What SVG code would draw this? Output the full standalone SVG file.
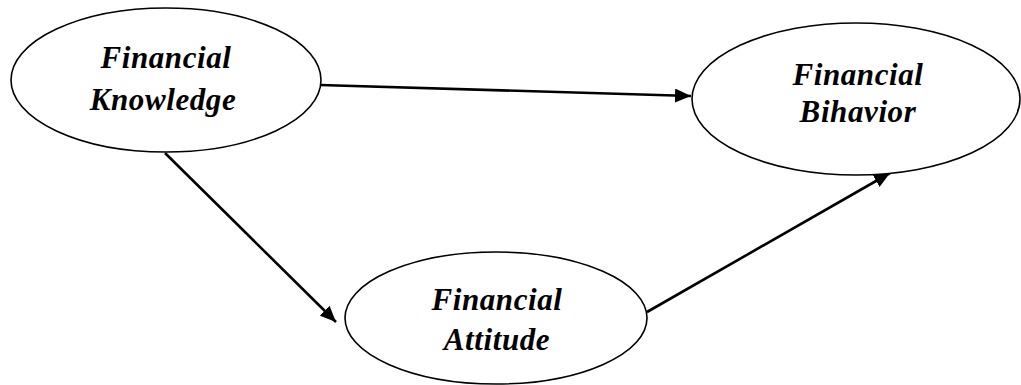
<svg xmlns="http://www.w3.org/2000/svg" width="1021" height="385" viewBox="0 0 1021 385">
<style>
.node ellipse{fill:#fff;stroke:#000;stroke-width:1.6}
.node text{font-family:"Liberation Serif","Times New Roman",serif;font-weight:bold;font-style:italic;font-size:31px;letter-spacing:0.6px;text-anchor:middle;fill:#000}
.edge{stroke:#000;stroke-width:2.6;fill:none;marker-end:url(#ah)}
</style>
<defs>
<marker id="ah" markerUnits="userSpaceOnUse" markerWidth="16" markerHeight="14" viewBox="0 0 16 14" refX="16" refY="7" orient="auto">
<path d="M0,0 L16,7 L0,14 Z" fill="#000"/>
</marker>
</defs>
<g id="connectors">
<line class="edge" x1="320" y1="85" x2="691" y2="96"/>
<line class="edge" x1="165" y1="153" x2="336" y2="322"/>
<line class="edge" x1="647" y1="312" x2="890" y2="173"/>
</g>
<g id="knowledge" class="node">
<ellipse cx="166" cy="80" rx="155" ry="72"/>
<text x="166" y="68">Financial</text>
<text x="163" y="110">Knowledge</text>
</g>
<g id="behavior" class="node">
<ellipse cx="856" cy="99" rx="164" ry="76"/>
<text x="858" y="85">Financial</text>
<text x="858" y="122">Bihavior</text>
</g>
<g id="attitude" class="node">
<ellipse cx="496" cy="318" rx="151" ry="66"/>
<text x="497" y="310">Financial</text>
<text x="497" y="350">Attitude</text>
</g>
</svg>
